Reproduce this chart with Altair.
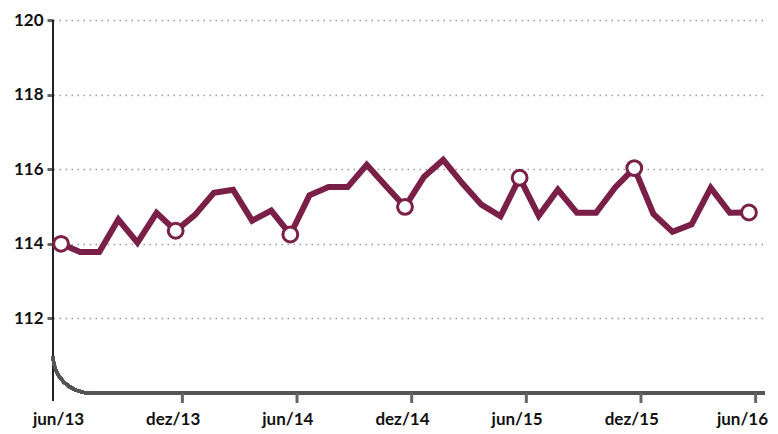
import altair as alt
import pandas as pd

# monthly index, jun/13 .. jun/16
values = [114.0, 113.78, 113.78, 114.65, 114.03, 114.83, 114.35, 114.77, 115.37, 115.45,
          114.62, 114.89, 114.25, 115.3, 115.52, 115.52, 116.12, 115.55, 114.99, 115.8,
          116.25, 115.62, 115.05, 114.74, 115.77, 114.75, 115.45, 114.83, 114.83, 115.51,
          116.03, 114.8, 114.32, 114.52, 115.5, 114.83, 114.84]
marker_idx = [0, 6, 12, 18, 24, 30, 36]
tick_labels = ["jun/13", "dez/13", "jun/14", "dez/14", "jun/15", "dez/15", "jun/16"]
tick_values = [0, 6, 12, 18, 24, 30, 36]
tick_marks = [6.35, 12.35, 18.35, 24.35, 30.35, 36.35]
y_ticks = [112, 114, 116, 118, 120]

W, H = 712, 373
COLOR = "#7a1f47"
FONT = "Lato"

df = pd.DataFrame({"i": list(range(len(values))), "v": values})
dm = df[df["i"].isin(marker_idx)]
dt = pd.DataFrame({"t": tick_marks})

label_expr = "[" + ",".join(f"'{s}'" for s in tick_labels) + "][round(datum.value/6)]"

xs = alt.Scale(domain=[-0.42, 36.84], nice=False, zero=False)
ys = alt.Scale(domain=[110, 120], nice=False, zero=False)

xaxis = alt.Axis(values=tick_values, labelExpr=label_expr, grid=False, domain=False, ticks=False,
                 labelPadding=18, labelFont=FONT, labelFontSize=17, labelFontWeight="bold",
                 labelColor="#111", title=None, labelBound=False, labelFlush=False,
                 labelOffset={"condition": {"test": "datum.value >= 36", "value": -7}, "value": -3})
yaxis = alt.Axis(values=y_ticks, grid=True, gridDash=[1.5, 4.5], gridColor="#999", gridWidth=1.5,
                 domain=False, tickSize=6, tickWidth=3, tickColor="#666", labelPadding=4,
                 labelFont=FONT, labelFontSize=17, labelFontWeight="bold", labelColor="#111",
                 title=None)

base = alt.Chart(df)

line = base.mark_line(color=COLOR, strokeWidth=6, strokeJoin="miter").encode(
    x=alt.X("i:Q", scale=xs, axis=xaxis),
    y=alt.Y("v:Q", scale=ys, axis=yaxis),
)

points = alt.Chart(dm).mark_point(filled=True, fill="white", stroke=COLOR, strokeWidth=3,
                                  size=220, opacity=1, shape="circle").encode(
    x=alt.X("i:Q", scale=xs), y=alt.Y("v:Q", scale=ys)
)

yline = alt.Chart(df).mark_rule(color="#222", strokeWidth=2).encode(
    x=alt.value(0), y=alt.value(0), y2=alt.value(H + 8)
)

xline = alt.Chart(df).mark_rule(color="#555", strokeWidth=3).encode(
    x=alt.value(36), x2=alt.value(W), y=alt.value(H)
)

arc = alt.Chart(df).mark_arc(color="#555", innerRadius=35.5, outerRadius=38.5).encode(
    x=alt.value(37), y=alt.value(H - 37),
    theta=alt.value(3.14159), theta2=alt.value(4.71239)
)

xticks = alt.Chart(dt).mark_rule(color="#666", strokeWidth=3).encode(
    x=alt.X("t:Q", scale=xs), y=alt.value(H), y2=alt.value(H + 10)
)

chart = alt.layer(yline, xline, arc, xticks, line, points).properties(
    width=W, height=H,
    autosize=alt.AutoSizeParams(type="none"),
    padding={"left": 45, "top": 12, "right": 5, "bottom": 40},
).configure_view(stroke=None)

chart.save("out.html", embed_options={"renderer": "svg", "actions": False})
